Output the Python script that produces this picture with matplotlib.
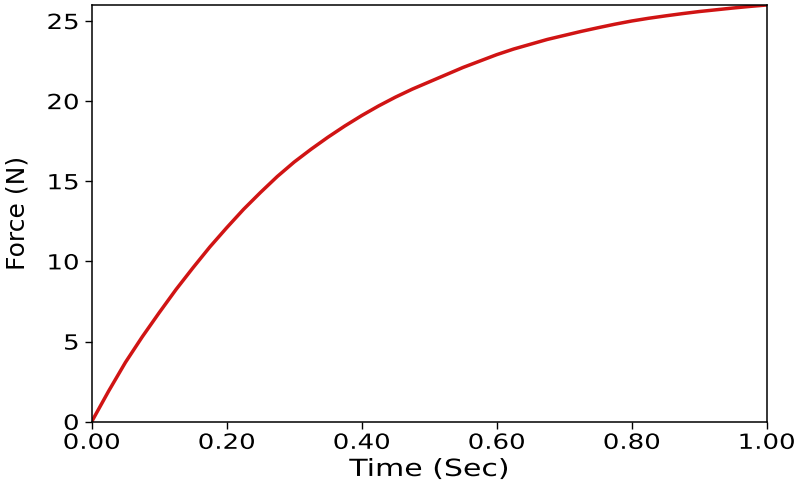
import matplotlib
matplotlib.use("Agg")
import matplotlib.pyplot as plt
from matplotlib.patheffects import AbstractPathEffect
from matplotlib.transforms import Affine2D

# values
time_sec = [0.000, 0.025, 0.050, 0.075, 0.100, 0.125, 0.150, 0.175, 0.200,
            0.225, 0.250, 0.275, 0.300, 0.325, 0.350, 0.375, 0.400, 0.425,
            0.450, 0.475, 0.500, 0.525, 0.550, 0.575, 0.600, 0.625, 0.650,
            0.675, 0.700, 0.725, 0.750, 0.775, 0.800, 0.825, 0.850, 0.875,
            0.900, 0.925, 0.950, 0.975, 1.000]
force_n = [0.0, 1.9, 3.7, 5.3, 6.8, 8.25, 9.6, 10.9, 12.1,
           13.25, 14.3, 15.3, 16.2, 17.0, 17.75, 18.45, 19.1, 19.7,
           20.25, 20.75, 21.2, 21.65, 22.1, 22.5, 22.9, 23.25, 23.55,
           23.85, 24.1, 24.35, 24.58, 24.8, 25.0, 25.17, 25.32, 25.46,
           25.59, 25.7, 25.81, 25.91, 26.0]

x_ticks = [0.0, 0.2, 0.4, 0.6, 0.8, 1.0]
x_tick_labels = ["0.00", "0.20", "0.40", "0.60", "0.80", "1.00"]
y_ticks = [0, 5, 10, 15, 20, 25]


class Widen(AbstractPathEffect):
    # the reference text is wider than plain DejaVu Sans, stretch it sideways
    def __init__(self, sx, anchor="center"):
        super().__init__()
        self.sx = sx
        self.anchor = anchor

    def draw_path(self, renderer, gc, tpath, affine, rgbFace=None):
        ext = tpath.get_extents(affine)
        x0 = ext.x1 if self.anchor == "right" else (ext.x0 + ext.x1) / 2
        t = affine + Affine2D().translate(-x0, 0).scale(self.sx, 1).translate(x0, 0)
        renderer.draw_path(gc, tpath, t, rgbFace)


fig = plt.figure(figsize=(8, 4.88), dpi=100)
ax = fig.add_axes([0.1146, 0.1359, 0.8438, 0.8539])

ax.plot(time_sec, force_n, color="#d01414", linewidth=2.5)

ax.set_xlim(0, 1)
ax.set_ylim(0, 26)
ax.set_xticks(x_ticks)
ax.set_xticklabels(x_tick_labels)
ax.set_yticks(y_ticks)
ax.tick_params(axis="both", labelsize=15, length=5, width=1)
ax.tick_params(axis="x", pad=3)
ax.tick_params(axis="y", pad=4)

for lbl in ax.get_xticklabels():
    lbl.set_path_effects([Widen(1.25)])
for lbl in ax.get_yticklabels():
    lbl.set_path_effects([Widen(1.25, "right")])

ax.set_xlabel("Time (Sec)", fontsize=17, labelpad=3)
ax.xaxis.label.set_path_effects([Widen(1.27)])
ax.set_ylabel("Force (N)", fontsize=18)
ax.yaxis.set_label_coords(-0.092, 0.5)

for s in ax.spines.values():
    s.set_linewidth(1.1)

fig.savefig("out.png", dpi=100)
